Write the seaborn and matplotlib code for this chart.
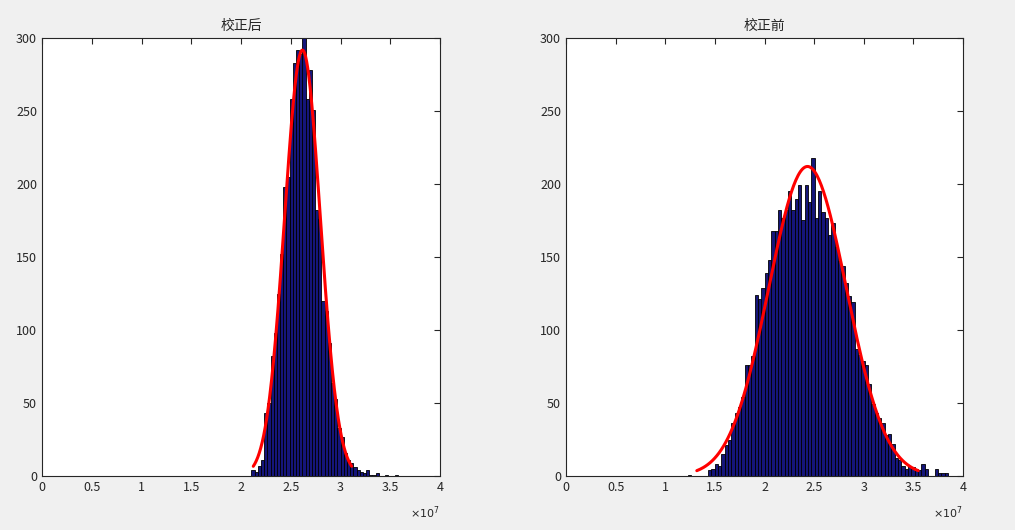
import numpy as np
import pandas as pd
import matplotlib
matplotlib.use("Agg")
import matplotlib.pyplot as plt
import seaborn as sns

sns.set_style("white")
plt.rcParams['font.family'] = ['Noto Sans CJK SC', 'DejaVu Sans']

# bin layout (x in units of 1e7) and counts
after_start, after_width = 2.105, 0.032
after_counts = [4, 3, 7, 11, 43, 50, 82, 98, 125, 152, 198, 205, 258, 283, 292,
                289, 300, 258, 278, 251, 182, 176, 120, 113, 91, 64, 53, 33, 27,
                16, 11, 9, 6, 4, 3, 2, 4, 1, 1, 2, 0, 0, 1, 0, 0, 1]

before_start, before_width = 1.228, 0.0336
before_counts = [1, 0, 0, 0, 0, 0,
                 4, 5, 8, 7, 15, 21, 25, 36, 43, 47, 54, 76, 76, 82, 124, 121, 129,
                 139, 148, 168, 168, 182, 177, 182, 195, 182, 190, 199, 175, 199,
                 188, 218, 177, 195, 181, 177, 165, 173, 157, 147, 144, 132, 123,
                 119, 87, 83, 79, 76, 63, 49, 43, 40, 36, 28, 29, 22, 12, 11, 7,
                 5, 7, 6, 5, 4, 8, 5, 0, 0, 5, 2, 2, 2]

titles = ["校正后", "校正前"]
fit_span = [2.75, 2.85]

fig = plt.figure(figsize=(10.15, 5.30), dpi=100, facecolor="#f0f0f0")
axes = [fig.add_axes([42 / 1015, 54 / 530, 398 / 1015, 438 / 530]),
        fig.add_axes([566 / 1015, 54 / 530, 397 / 1015, 438 / 530])]

datasets = [(after_start, after_width, after_counts),
            (before_start, before_width, before_counts)]

for ax, (start, width, counts), title, span in zip(axes, datasets, titles, fit_span):
    counts = np.array(counts, dtype=float)
    edges = start + width * np.arange(len(counts) + 1)
    centers = (edges[:-1] + edges[1:]) / 2
    df = pd.DataFrame({"x": centers, "n": counts})
    sns.histplot(data=df, x="x", weights="n", bins=list(edges), ax=ax,
                 color="#15157a", edgecolor="black", linewidth=0.6, alpha=1)
    n = counts.sum()
    mu = (centers * counts).sum() / n
    sd = np.sqrt(((centers - mu) ** 2 * counts).sum() / n)
    xs = np.linspace(mu - span * sd, mu + span * sd, 200)
    ys = n * width / (sd * np.sqrt(2 * np.pi)) * np.exp(-0.5 * ((xs - mu) / sd) ** 2)
    sns.lineplot(x=xs, y=ys, ax=ax, color="red", linewidth=2.2)

    ax.set_xlim(0, 4)
    ax.set_ylim(0, 300)
    ax.set_xticks(np.arange(0, 4.01, 0.5))
    ax.set_xticklabels(["0", "0.5", "1", "1.5", "2", "2.5", "3", "3.5", "4"])
    ax.set_yticks(range(0, 301, 50))
    ax.set_xlabel("")
    ax.set_ylabel("")
    ax.set_title(title, fontsize=10, pad=6)
    ax.tick_params(direction="in", length=4, labelsize=9, top=True, right=True,
                   labeltop=False, labelright=False)
    for s in ax.spines.values():
        s.set_color("#262626")
        s.set_linewidth(0.8)
    ax.text(1.0, -0.065, r"$\times10^7$", transform=ax.transAxes,
            ha="right", va="top", fontsize=8, color="#262626")

fig.savefig("out.png", dpi=100, facecolor=fig.get_facecolor())
